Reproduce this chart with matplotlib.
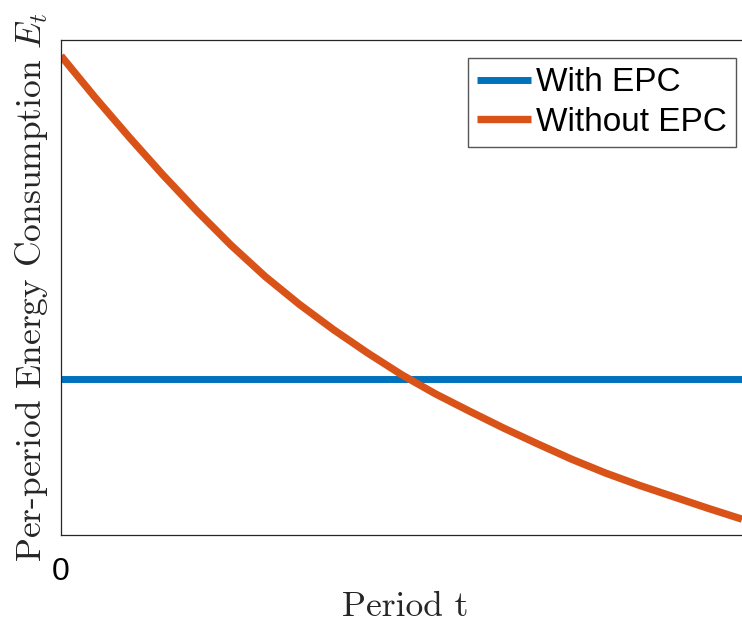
import matplotlib
matplotlib.use('Agg')
import matplotlib.pyplot as plt

plt.rcParams['mathtext.fontset'] = 'cm'
plt.rcParams['axes.unicode_minus'] = False

# values (period scaled 0..1, energy scaled 0..1)
period = [0.00, 0.05, 0.10, 0.15, 0.20, 0.25, 0.30, 0.35, 0.40, 0.45, 0.50,
          0.55, 0.60, 0.65, 0.70, 0.75, 0.80, 0.85, 0.90, 0.95, 1.00]
without_epc = [0.968, 0.884, 0.804, 0.727, 0.654, 0.585, 0.522, 0.466, 0.415,
               0.368, 0.324, 0.285, 0.250, 0.216, 0.184, 0.153, 0.125, 0.100,
               0.077, 0.054, 0.032]
with_epc = [0.315] * len(period)

blue = '#0072BD'
orange = '#D95319'

fig = plt.figure(figsize=(7.42, 6.30), dpi=100)
ax = fig.add_axes([61 / 742, 1 - 535 / 630, 1 - 61 / 742, (535 - 40) / 630])

ax.plot(period, with_epc, color=blue, lw=5, label='With EPC', solid_capstyle='butt')
ax.plot(period, without_epc, color=orange, lw=5.3, label='Without EPC',
        solid_capstyle='butt', solid_joinstyle='round')

ax.set_xlim(0, 1)
ax.set_ylim(0, 1)
ax.set_xticks([0])
ax.set_xticklabels(['0'], fontfamily='Liberation Sans', fontsize=23)
ax.set_yticks([])
ax.tick_params(axis='x', length=0, pad=16)
for s in ['left', 'top', 'bottom']:
    ax.spines[s].set_color('#262626')
    ax.spines[s].set_linewidth(0.9)
ax.spines['right'].set_visible(False)

leg = ax.legend(loc='upper right', bbox_to_anchor=(736 / 742, 1 - 58 / 630),
                bbox_transform=fig.transFigure, borderaxespad=0,
                prop={'family': 'Liberation Sans', 'size': 24},
                fancybox=False, framealpha=1, edgecolor='#555555',
                handlelength=1.6, handletextpad=0.15, labelspacing=0.25,
                borderpad=0.28)
leg.get_frame().set_linewidth(1.0)

fig.text(405 / 742, 1 - 607 / 630, 'Period t', family='cmr10', fontsize=25.5,
         ha='center', va='center', color='#262626')
fig.text(32 / 742, 1 - 287 / 630, 'Per-period Energy Consumption $E_t$',
         family='cmr10', fontsize=25.5, rotation=90, ha='center', va='center',
         color='#262626')

fig.savefig('out.png', dpi=100)
